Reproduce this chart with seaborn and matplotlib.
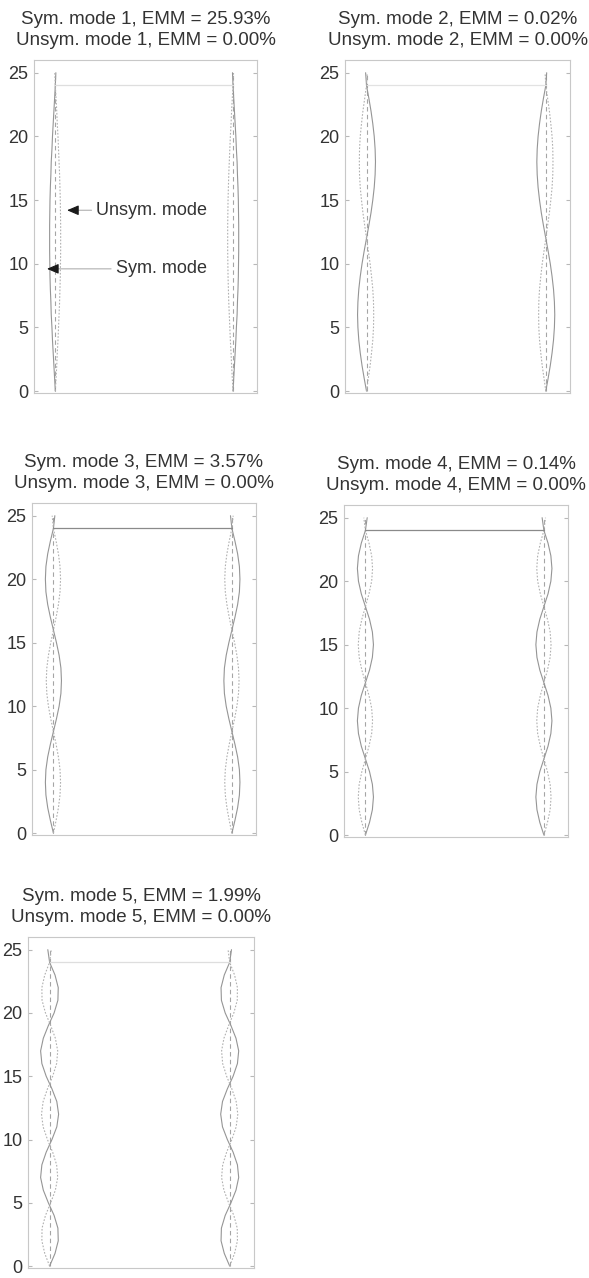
import numpy as np
import matplotlib
matplotlib.use("Agg")
import matplotlib.pyplot as plt
import seaborn as sns

# ---------------- data ----------------
heights = [0, 1, 2, 3, 4, 5, 6, 7, 8, 9, 10, 11, 12, 13, 14, 15, 16, 17, 18, 19, 20, 21, 22, 23, 24, 25]
column_x = [0, 10]
column_top = 25
beam_y = 24
mode_numbers = [1, 2, 3, 4, 5]
sym_emm = ["25.93", "0.02", "3.57", "0.14", "1.99"]
unsym_emm = ["0.00", "0.00", "0.00", "0.00", "0.00"]
y_ticks = [0, 5, 10, 15, 20, 25]

# lateral deflections of the columns read at each height (left / right column)
m1_sym_left = [0, -0.04, -0.08, -0.12, -0.16, -0.19, -0.23, -0.25, -0.28, -0.30, -0.31, -0.32, -0.32, -0.32, -0.31, -0.30, -0.28, -0.25, -0.23, -0.19, -0.16, -0.12, -0.08, -0.04, 0.0, 0.03]
m1_unsym_left = [0, 0.04, 0.08, 0.11, 0.15, 0.18, 0.21, 0.24, 0.26, 0.28, 0.29, 0.30, 0.30, 0.30, 0.29, 0.28, 0.26, 0.24, 0.21, 0.18, 0.15, 0.11, 0.08, 0.04, 0.0, -0.03]
m1_sym_right = [0, 0.04, 0.08, 0.12, 0.16, 0.19, 0.23, 0.25, 0.28, 0.30, 0.31, 0.32, 0.32, 0.32, 0.31, 0.30, 0.28, 0.25, 0.23, 0.19, 0.16, 0.12, 0.08, 0.04, 0.0, -0.03]
m1_unsym_right = [0, -0.04, -0.08, -0.11, -0.15, -0.18, -0.21, -0.24, -0.26, -0.28, -0.29, -0.30, -0.30, -0.30, -0.29, -0.28, -0.26, -0.24, -0.21, -0.18, -0.15, -0.11, -0.08, -0.04, 0.0, 0.03]

m2_sym_left = [0, -0.13, -0.25, -0.35, -0.43, -0.48, -0.50, -0.48, -0.43, -0.35, -0.25, -0.13, 0, 0.13, 0.25, 0.35, 0.43, 0.48, 0.50, 0.48, 0.43, 0.35, 0.25, 0.13, 0, -0.05]
m2_unsym_left = [0, 0.10, 0.20, 0.28, 0.35, 0.39, 0.40, 0.39, 0.35, 0.28, 0.20, 0.10, 0, -0.10, -0.20, -0.28, -0.35, -0.39, -0.40, -0.39, -0.35, -0.28, -0.20, -0.10, 0, 0.04]
m2_sym_right = [0, 0.13, 0.25, 0.35, 0.43, 0.48, 0.50, 0.48, 0.43, 0.35, 0.25, 0.13, 0, -0.13, -0.25, -0.35, -0.43, -0.48, -0.50, -0.48, -0.43, -0.35, -0.25, -0.13, 0, 0.05]
m2_unsym_right = [0, -0.10, -0.20, -0.28, -0.35, -0.39, -0.40, -0.39, -0.35, -0.28, -0.20, -0.10, 0, 0.10, 0.20, 0.28, 0.35, 0.39, 0.40, 0.39, 0.35, 0.28, 0.20, 0.10, 0, -0.04]

m3_sym_left = [0, -0.17, -0.32, -0.42, -0.45, -0.42, -0.32, -0.17, 0, 0.17, 0.32, 0.42, 0.45, 0.42, 0.32, 0.17, 0, -0.17, -0.32, -0.42, -0.45, -0.42, -0.32, -0.17, 0, 0.08]
m3_unsym_left = [0, 0.15, 0.28, 0.37, 0.40, 0.37, 0.28, 0.15, 0, -0.15, -0.28, -0.37, -0.40, -0.37, -0.28, -0.15, 0, 0.15, 0.28, 0.37, 0.40, 0.37, 0.28, 0.15, 0, -0.07]
m3_sym_right = [0, 0.17, 0.32, 0.42, 0.45, 0.42, 0.32, 0.17, 0, -0.17, -0.32, -0.42, -0.45, -0.42, -0.32, -0.17, 0, 0.17, 0.32, 0.42, 0.45, 0.42, 0.32, 0.17, 0, -0.08]
m3_unsym_right = [0, -0.15, -0.28, -0.37, -0.40, -0.37, -0.28, -0.15, 0, 0.15, 0.28, 0.37, 0.40, 0.37, 0.28, 0.15, 0, -0.15, -0.28, -0.37, -0.40, -0.37, -0.28, -0.15, 0, 0.07]

m4_sym_left = [0, 0.23, 0.39, 0.45, 0.39, 0.23, 0, -0.23, -0.39, -0.45, -0.39, -0.23, 0, 0.23, 0.39, 0.45, 0.39, 0.23, 0, -0.23, -0.39, -0.45, -0.39, -0.23, 0, 0.10]
m4_unsym_left = [0, -0.20, -0.35, -0.40, -0.35, -0.20, 0, 0.20, 0.35, 0.40, 0.35, 0.20, 0, -0.20, -0.35, -0.40, -0.35, -0.20, 0, 0.20, 0.35, 0.40, 0.35, 0.20, 0, -0.09]
m4_sym_right = [0, -0.23, -0.39, -0.45, -0.39, -0.23, 0, 0.23, 0.39, 0.45, 0.39, 0.23, 0, -0.23, -0.39, -0.45, -0.39, -0.23, 0, 0.23, 0.39, 0.45, 0.39, 0.23, 0, -0.10]
m4_unsym_right = [0, 0.20, 0.35, 0.40, 0.35, 0.20, 0, -0.20, -0.35, -0.40, -0.35, -0.20, 0, 0.20, 0.35, 0.40, 0.35, 0.20, 0, -0.20, -0.35, -0.40, -0.35, -0.20, 0, 0.09]

m5_sym_left = [0, 0.30, 0.48, 0.46, 0.25, -0.07, -0.35, -0.50, -0.43, -0.19, 0.13, 0.40, 0.50, 0.40, 0.13, -0.19, -0.43, -0.50, -0.35, -0.07, 0.25, 0.46, 0.48, 0.30, 0, -0.10]
m5_unsym_left = [0, -0.27, -0.43, -0.42, -0.23, 0.06, 0.32, 0.45, 0.39, 0.17, -0.12, -0.36, -0.45, -0.36, -0.12, 0.17, 0.39, 0.45, 0.32, 0.06, -0.23, -0.42, -0.43, -0.27, 0, 0.09]
m5_sym_right = [0, -0.30, -0.48, -0.46, -0.25, 0.07, 0.35, 0.50, 0.43, 0.19, -0.13, -0.40, -0.50, -0.40, -0.13, 0.19, 0.43, 0.50, 0.35, 0.07, -0.25, -0.46, -0.48, -0.30, 0, 0.10]
m5_unsym_right = [0, 0.27, 0.43, 0.42, 0.23, -0.06, -0.32, -0.45, -0.39, -0.17, 0.12, 0.36, 0.45, 0.36, 0.12, -0.17, -0.39, -0.45, -0.32, -0.06, 0.23, 0.42, 0.43, 0.27, 0, -0.09]

sym_left = [m1_sym_left, m2_sym_left, m3_sym_left, m4_sym_left, m5_sym_left]
unsym_left = [m1_unsym_left, m2_unsym_left, m3_unsym_left, m4_unsym_left, m5_unsym_left]
sym_right = [m1_sym_right, m2_sym_right, m3_sym_right, m4_sym_right, m5_sym_right]
unsym_right = [m1_unsym_right, m2_unsym_right, m3_unsym_right, m4_unsym_right, m5_unsym_right]

# ---------------- style ----------------
sns.set_style("white")
plt.rcParams["font.family"] = ["Liberation Sans", "DejaVu Sans"]

TEXT = "#333333"
SPINE = "#c8c8c8"
SYM_C = "#959595"
UNS_C = "#b0b0b0"
COL_C = "#a5a5a5"
beam_colors = ["#dedede", "#e2e2e2", "#8a8a8a", "#8a8a8a", "#dedede"]

W, H = 589, 1278
# axes boxes in pixels: left, top, right, bottom
boxes = [(34, 60, 257, 393), (345, 60, 570, 393),
         (32, 503, 256, 835), (344, 505, 568, 837),
         (28, 937, 254, 1268)]

fig = plt.figure(figsize=(W / 100, H / 100), dpi=100)

for i, (l, t, r, b) in enumerate(boxes):
    ax = fig.add_axes([l / W, 1 - b / H, (r - l) / W, (b - t) / H])
    for cx, s_vals, u_vals in [(column_x[0], sym_left[i], unsym_left[i]),
                               (column_x[1], sym_right[i], unsym_right[i])]:
        sns.lineplot(x=[cx, cx], y=[0, column_top], ax=ax, sort=False, estimator=None,
                     color=COL_C, linewidth=0.8, linestyle=(0, (4, 3)))
        sns.lineplot(x=np.add(cx, s_vals), y=heights, ax=ax, sort=False, estimator=None,
                     color=SYM_C, linewidth=0.8)
        sns.lineplot(x=np.add(cx, u_vals), y=heights, ax=ax, sort=False, estimator=None,
                     color=UNS_C, linewidth=0.8, linestyle=(0, (1.5, 1.5)))
    sns.lineplot(x=column_x, y=[beam_y, beam_y], ax=ax, sort=False, estimator=None,
                 color=beam_colors[i], linewidth=0.9)

    ax.set_xlim(-1.2, 11.35)
    ax.set_ylim(-0.15, 26)
    ax.set_xticks([])
    ax.set_yticks(y_ticks)
    ax.set_yticklabels([str(v) for v in y_ticks])
    ax.set_xlabel("")
    ax.set_ylabel("")
    ax.tick_params(axis="y", direction="in", left=True, right=True, length=3,
                   color="#b8b8b8", labelsize=13, labelcolor=TEXT, pad=4)
    for sp in ax.spines.values():
        sp.set_color(SPINE)
        sp.set_linewidth(0.8)
    n = mode_numbers[i]
    ax.set_title(f"Sym. mode {n}, EMM = {sym_emm[i]}%\nUnsym. mode {n}, EMM = {unsym_emm[i]}%",
                 fontsize=13.5, color=TEXT, pad=11, linespacing=1.3)

    if i == 0:
        # gray leader lines with text
        ax.annotate("Unsym. mode", xy=(1.1, 14.2), xytext=(2.3, 14.2),
                    fontsize=13, color=TEXT, ha="left", va="center",
                    arrowprops=dict(arrowstyle="-", color="#b0b0b0", lw=0.8,
                                    relpos=(0, 0.5), shrinkA=1, shrinkB=0))
        ax.annotate("", xy=(0.66, 14.2), xytext=(1.2, 14.2),
                    arrowprops=dict(arrowstyle="-|>,head_length=0.7,head_width=0.3",
                                    color="#1a1a1a", lw=0.8, shrinkA=0, shrinkB=0))
        ax.annotate("Sym. mode", xy=(0.0, 9.6), xytext=(3.4, 9.6),
                    fontsize=13, color=TEXT, ha="left", va="center",
                    arrowprops=dict(arrowstyle="-", color="#b0b0b0", lw=0.8,
                                    relpos=(0, 0.5), shrinkA=1, shrinkB=0))
        ax.annotate("", xy=(-0.47, 9.6), xytext=(0.1, 9.6),
                    arrowprops=dict(arrowstyle="-|>,head_length=0.7,head_width=0.3",
                                    color="#1a1a1a", lw=0.8, shrinkA=0, shrinkB=0))

fig.savefig("out.png", dpi=100, facecolor="white")
